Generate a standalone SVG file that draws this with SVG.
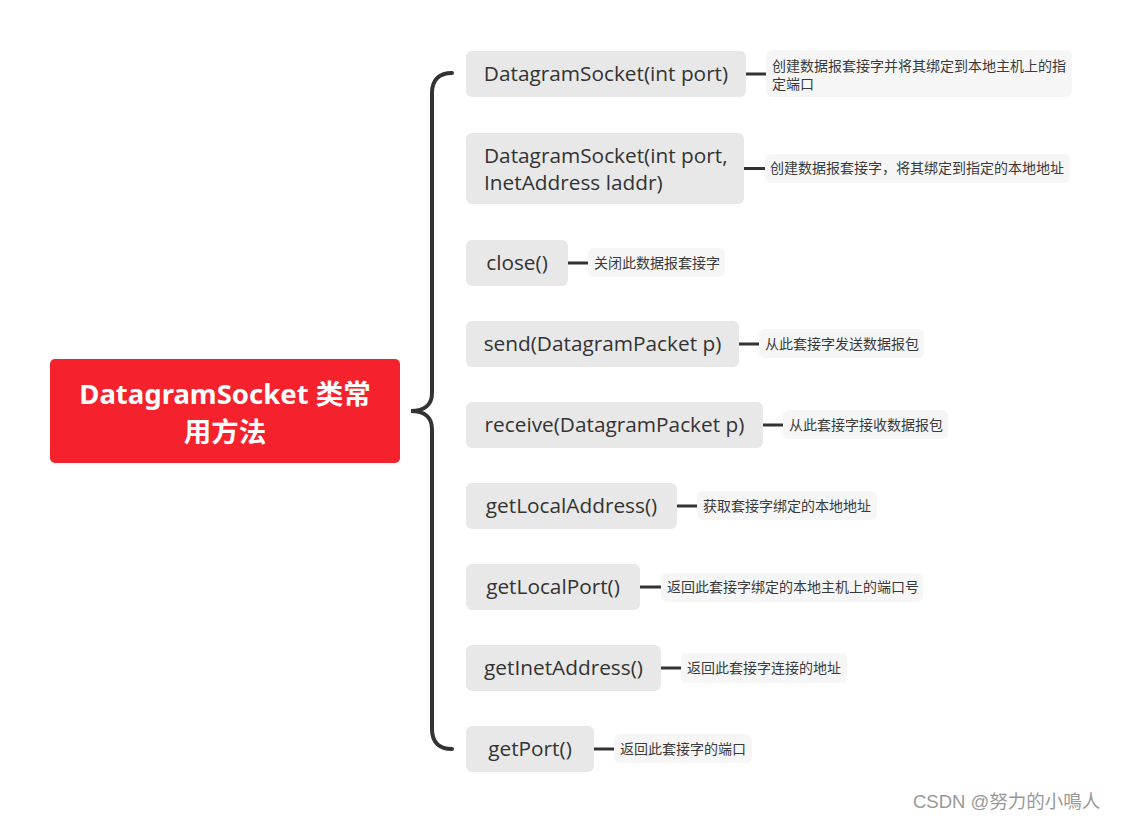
<svg xmlns="http://www.w3.org/2000/svg" width="1122" height="822" viewBox="0 0 1122 822">
<style>
.node{fill:#E8E8E8}
.lab{fill:#F6F6F6}
.nt{font-family:"Open Sans","Noto Sans",sans-serif;font-size:20.8px;fill:#333333}
.lt{font-family:"Noto Sans CJK SC","Noto Sans",sans-serif;font-size:14px;fill:#3a3a3a}
.conn{stroke:#333333;stroke-width:3;fill:none}
.brace{stroke:#333333;stroke-width:4;fill:none;stroke-linecap:round}
</style>
<rect width="1122" height="822" fill="#FFFFFF"/>
<g id="connectors">
<path class="brace" d="M452,73 C440,73 432,79 432,93 L432,393 C432,405 424,411 411,411 C424,411 432,417 432,429 L432,729 C432,743 440,749 452,749"/>
<line class="conn" x1="746" y1="74" x2="766" y2="74"/>
<line class="conn" x1="744" y1="168.5" x2="765" y2="168.5"/>
<line class="conn" x1="568" y1="263" x2="588" y2="263"/>
<line class="conn" x1="739" y1="344" x2="759" y2="344"/>
<line class="conn" x1="763" y1="425" x2="783" y2="425"/>
<line class="conn" x1="677" y1="506" x2="697" y2="506"/>
<line class="conn" x1="640" y1="587" x2="661" y2="587"/>
<line class="conn" x1="661" y1="668" x2="681" y2="668"/>
<line class="conn" x1="594" y1="749" x2="614" y2="749"/>
</g>
<g id="root">
<rect x="50" y="359" width="350" height="104" rx="5" fill="#F5222D"/>
<text x="225" y="404" text-anchor="middle" font-family="'Noto Sans','Noto Sans CJK SC',sans-serif" font-size="27.5" font-weight="bold" fill="#FFFFFF">DatagramSocket 类常</text>
<text x="225" y="442" text-anchor="middle" font-family="'Noto Sans','Noto Sans CJK SC',sans-serif" font-size="27.5" font-weight="bold" fill="#FFFFFF">用方法</text>
</g>
<g id="n1">
<rect class="node" x="466" y="51" width="280" height="46" rx="6"/>
<text class="nt" x="606" y="81" text-anchor="middle">DatagramSocket(int port)</text>
</g>
<g id="n2">
<rect class="node" x="466" y="133" width="278" height="71" rx="6"/>
<text class="nt" x="484" y="163">DatagramSocket(int port,</text>
<text class="nt" x="484" y="190">InetAddress laddr)</text>
</g>
<g id="n3">
<rect class="node" x="466" y="240" width="102" height="46" rx="6"/>
<text class="nt" x="517" y="270" text-anchor="middle">close()</text>
</g>
<g id="n4">
<rect class="node" x="466" y="321" width="273" height="46" rx="6"/>
<text class="nt" x="602.5" y="351" text-anchor="middle">send(DatagramPacket p)</text>
</g>
<g id="n5">
<rect class="node" x="466" y="402" width="297" height="46" rx="6"/>
<text class="nt" x="614.5" y="432" text-anchor="middle">receive(DatagramPacket p)</text>
</g>
<g id="n6">
<rect class="node" x="466" y="483" width="211" height="46" rx="6"/>
<text class="nt" x="571.5" y="513" text-anchor="middle">getLocalAddress()</text>
</g>
<g id="n7">
<rect class="node" x="466" y="564" width="174" height="46" rx="6"/>
<text class="nt" x="553" y="594" text-anchor="middle">getLocalPort()</text>
</g>
<g id="n8">
<rect class="node" x="466" y="645" width="195" height="46" rx="6"/>
<text class="nt" x="563.5" y="675" text-anchor="middle">getInetAddress()</text>
</g>
<g id="n9">
<rect class="node" x="466" y="726" width="128" height="46" rx="6"/>
<text class="nt" x="530" y="756" text-anchor="middle">getPort()</text>
</g>
<g id="l1">
<rect class="lab" x="766" y="50" width="306" height="47" rx="6"/>
<text class="lt" x="772" y="71">创建数据报套接字并将其绑定到本地主机上的指</text>
<text class="lt" x="772" y="89">定端口</text>
</g>
<g id="l2">
<rect class="lab" x="765" y="154" width="305" height="29" rx="6"/>
<text class="lt" x="770" y="173">创建数据报套接字，将其绑定到指定的本地地址</text>
</g>
<g id="l3">
<rect class="lab" x="588" y="248" width="137" height="29" rx="6"/>
<text class="lt" x="594" y="268">关闭此数据报套接字</text>
</g>
<g id="l4">
<rect class="lab" x="759" y="329" width="165" height="29" rx="6"/>
<text class="lt" x="765" y="349">从此套接字发送数据报包</text>
</g>
<g id="l5">
<rect class="lab" x="783" y="410" width="165" height="29" rx="6"/>
<text class="lt" x="789" y="430">从此套接字接收数据报包</text>
</g>
<g id="l6">
<rect class="lab" x="697" y="491" width="180" height="29" rx="6"/>
<text class="lt" x="703" y="511">获取套接字绑定的本地地址</text>
</g>
<g id="l7">
<rect class="lab" x="661" y="573" width="262" height="29" rx="6"/>
<text class="lt" x="667" y="592">返回此套接字绑定的本地主机上的端口号</text>
</g>
<g id="l8">
<rect class="lab" x="681" y="653" width="166" height="30" rx="6"/>
<text class="lt" x="687" y="673">返回此套接字连接的地址</text>
</g>
<g id="l9">
<rect class="lab" x="614" y="734" width="138" height="29" rx="6"/>
<text class="lt" x="620" y="754">返回此套接字的端口</text>
</g>
<text x="913" y="808" font-family="'Liberation Sans','Noto Sans CJK SC',sans-serif" font-size="18.5" fill="#999999">CSDN @努力的小鳴人</text>
</svg>
